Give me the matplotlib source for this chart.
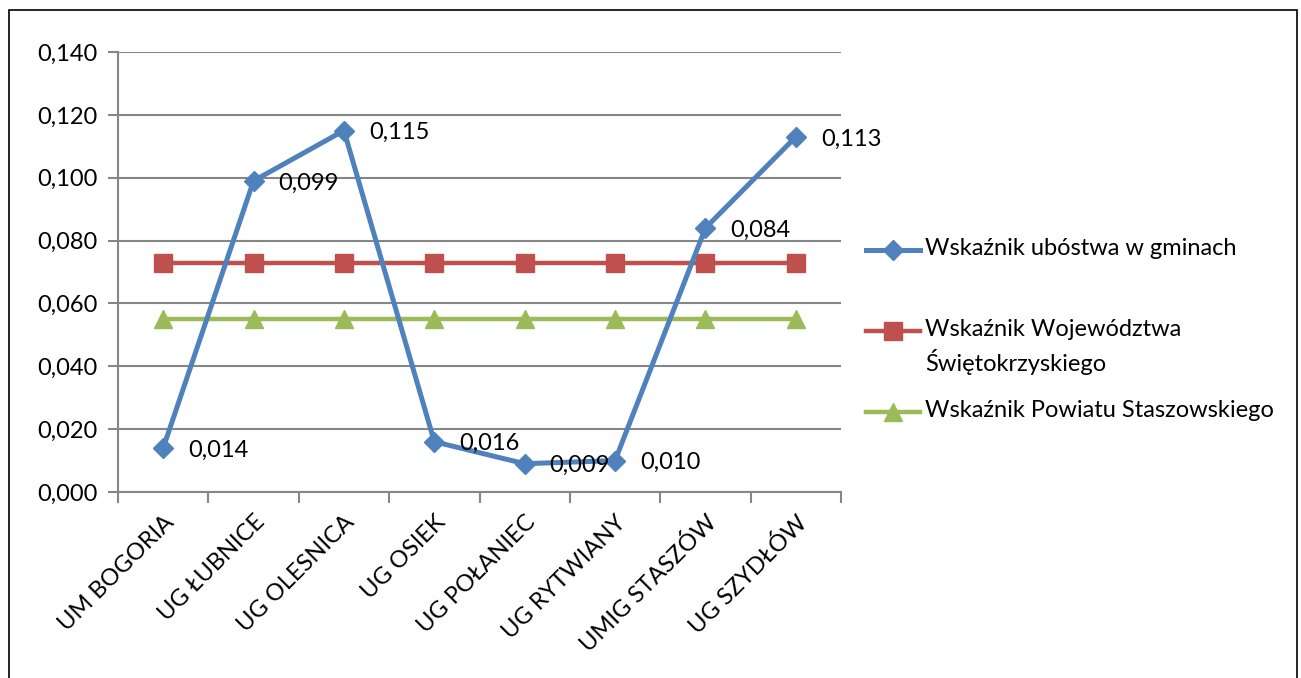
import numpy as np
from matplotlib import pyplot as plt
from matplotlib.lines import Line2D
from matplotlib.patches import Rectangle
from matplotlib.ticker import FuncFormatter

categories = ["UM BOGORIA", "UG ŁUBNICE", "UG OLESNICA", "UG OSIEK",
              "UG POŁANIEC", "UG RYTWIANY", "UMIG STASZÓW", "UG SZYDŁÓW"]
gminy = [0.014, 0.099, 0.115, 0.016, 0.009, 0.010, 0.084, 0.113]
wojewodztwo = [0.073] * 8
powiat = [0.055] * 8
labels = ["Wskaźnik ubóstwa w gminach",
          "Wskaźnik Województwa\nŚwiętokrzyskiego",
          "Wskaźnik Powiatu Staszowskiego"]

plt.rcParams['font.family'] = ['Lato', 'DejaVu Sans']
fs = 17
W, H = 1301, 678

fig = plt.figure(figsize=(W / 100, H / 100), dpi=100)
ax = fig.add_axes([118 / W, 1 - 492 / H, 723 / W, 440 / H])

x = np.arange(len(categories))
grid_c = "#868686"

l2, = ax.plot(x, wojewodztwo, color="#C0504D", lw=3.2, marker="s", markersize=12.5,
              label=labels[1], zorder=3)
l3, = ax.plot(x, powiat, color="#9BBB59", lw=3.2, marker="^", markersize=13.5,
              label=labels[2], zorder=3)
l1, = ax.plot(x, gminy, color="#4F81BD", lw=3.6, marker="D", markersize=10,
              label=labels[0], zorder=4)

for xi, v in zip(x, gminy):
    ax.annotate(("%.3f" % v).replace(".", ","), (xi, v), xytext=(18, -1.5),
                textcoords="offset points", ha="left", va="center", fontsize=fs, zorder=5)

ax.set_xlim(-0.5, len(categories) - 0.5)
ax.set_ylim(0, 0.14)
ax.set_yticks(np.arange(0, 0.141, 0.02))
ax.yaxis.set_major_formatter(FuncFormatter(lambda v, p: ("%.3f" % v).replace(".", ",")))
ax.grid(axis="y", color=grid_c, lw=1.5, zorder=0)
ax.tick_params(axis="y", length=7, color=grid_c, width=1.5, labelsize=fs, pad=8)

ax.set_xticks(x)
ax.set_xticklabels(categories, rotation=45, ha="right", rotation_mode="anchor", fontsize=fs)
ax.tick_params(axis="x", length=0, pad=14)
ax.set_xticks(np.arange(-0.5, len(categories), 1), minor=True)
ax.tick_params(axis="x", which="minor", length=8, color=grid_c, width=1.5)

for s in ["top", "right"]:
    ax.spines[s].set_visible(False)
for s in ["left", "bottom"]:
    ax.spines[s].set_color(grid_c)
    ax.spines[s].set_linewidth(1.5)

# legend drawn by hand so the handle sits on the first line of a wrapped label
for line, label, ypx in zip([l1, l2, l3], labels, [250, 331, 412]):
    yf = 1 - ypx / H
    fig.add_artist(Line2D([866 / W, 920 / W], [yf, yf], transform=fig.transFigure,
                          color=line.get_color(), lw=line.get_linewidth()))
    fig.add_artist(Line2D([893 / W], [yf], transform=fig.transFigure, linestyle="none",
                          marker=line.get_marker(), markersize=line.get_markersize(),
                          color=line.get_color()))
    fig.text(925 / W, yf + 12 / H, label, ha="left", va="top", fontsize=fs, linespacing=1.4)

fig.patches.append(Rectangle((9 / W, -0.05), 1288 / W, 1.05 - 10 / H,
                             transform=fig.transFigure, fill=False, edgecolor="black", lw=1.2))

fig.savefig("out.png", dpi=100)
